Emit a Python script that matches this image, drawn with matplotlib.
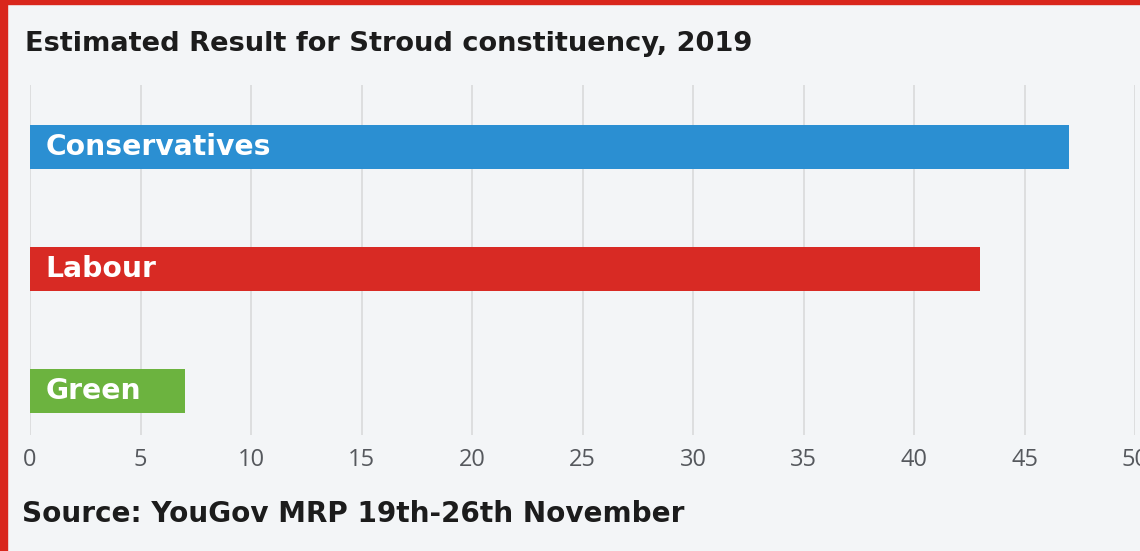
import matplotlib
matplotlib.use("Agg")
import matplotlib.pyplot as plt
from matplotlib.patches import Rectangle

# data
parties = ["Conservatives", "Labour", "Green"]
share = [47, 43, 7]
colours = ["#2b8fd2", "#d82a24", "#6cb33f"]
ticks = [0, 5, 10, 15, 20, 25, 30, 35, 40, 45, 50]

title = "Estimated Result for Stroud constituency, 2019"
source = "Source: YouGov MRP 19th-26th November"

bg = "#f3f5f7"
border = "#d9261c"
heading = "DejaVu Sans"

fig = plt.figure(figsize=(11.4, 5.51), dpi=100, facecolor=bg)

# red frame on the top and left edge, like the printed page
fig.patches.append(Rectangle((0, 0), 7 / 1140, 1, transform=fig.transFigure,
                             color=border, zorder=0))
fig.patches.append(Rectangle((0, 1 - 4 / 551), 1, 4 / 551, transform=fig.transFigure,
                             color=border, zorder=0))

ax = fig.add_axes([30 / 1140, 1 - 435 / 551, 1105 / 1140, 350 / 551])
ax.set_facecolor(bg)

ypos = list(range(len(parties)))
ax.barh(ypos, share, height=0.36, color=colours, zorder=2)

for y, name in zip(ypos, parties):
    ax.annotate(name, xy=(0, y), xytext=(11, 0), textcoords="offset points",
                ha="left", va="center", color="white", fontsize=20.3,
                fontweight="bold", family=heading, zorder=3)

ax.set_xlim(0, 50)
ax.set_ylim(2 + 43.5 / 122, -62 / 122)
ax.set_xticks(ticks)
ax.set_yticks([])
ax.grid(axis="x", color="#d9dadb", linewidth=1.2, zorder=0)
for s in ax.spines.values():
    s.set_visible(False)
ax.tick_params(axis="x", length=0, pad=9, labelsize=17, labelcolor="#55585d")
for lab in ax.get_xticklabels():
    lab.set_family("Open Sans")
    lab.set_clip_on(False)

fig.text(25 / 1140, 1 - 44 / 551, title, ha="left", va="center",
         fontsize=19.6, fontweight="bold", family=heading, color="#1c1c1c")
fig.text(22 / 1140, 1 - 514 / 551, source, ha="left", va="center",
         fontsize=20.1, fontweight="bold", family=heading, color="#1c1c1c")

fig.savefig("out.png", dpi=100, facecolor=bg)
